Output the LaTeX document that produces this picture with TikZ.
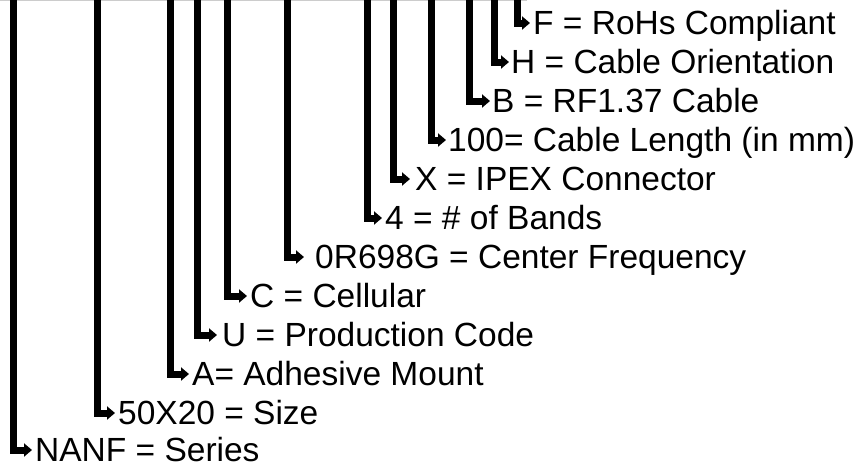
\documentclass[tikz,border=0pt]{standalone}
\usepackage{fontspec}
\setmainfont{Liberation Sans}
\usetikzlibrary{arrows.meta}
\begin{document}
\begin{tikzpicture}[x=1pt,y=-1pt,
  lbl/.style={anchor=base west,inner sep=0pt,font=\fontsize{33.5}{36}\selectfont},
  lead/.style={line width=7pt,-{Triangle[length=8pt,width=13pt]},line join=miter}]
\useasboundingbox (0,0) rectangle (859,467);
\draw[gray!40,line width=1pt] (0,0.5) -- (527,0.5);
\foreach \n/\xl/\yy/\xt/\xa/\txt in {
  F/517/23/533/530/{F = RoHs Compliant},
  H/494/62/511/509/{H = Cable Orientation},
  B/469/101/492/490/{B = RF1.37 Cable},
  L/431/140/448/446/{100= Cable Length (in mm)},
  X/393/179/415/410/{X = IPEX Connector},
  N/367/218/385/382/{4 = \# of Bands},
  R/287/257/315/304/{0R698G = Center Frequency},
  C/227/296/250/247/{C = Cellular},
  U/197/335/222/217/{U = Production Code},
  A/170/374/192/189/{A= Adhesive Mount},
  S/97/413/118/115/{50X20 = Size},
  Z/13/450/35/32/{NANF = Series}} {
  \node[lbl] (\n) at (\xt,\yy+11) {\txt};
  \coordinate (\n top) at (\xl,0);
  \coordinate (\n tip) at (\xa,\yy);
  \draw[lead] (\n top) |- (\n tip);
}
\end{tikzpicture}
\end{document}
